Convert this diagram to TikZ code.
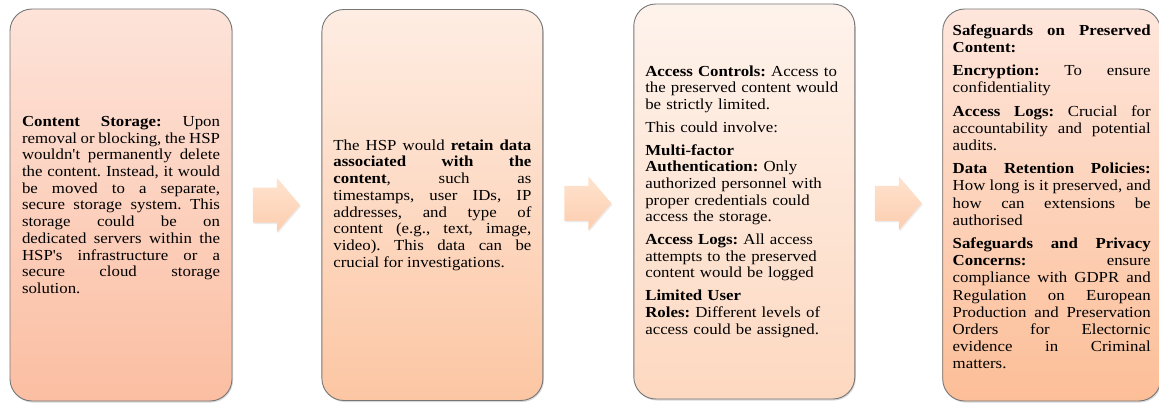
\documentclass[tikz,border=0pt]{standalone}
\usepackage{fontspec}
\setmainfont{Liberation Serif}[Ligatures=TeXOff, FakeStretch=1.1]
\usetikzlibrary{positioning}
\usetikzlibrary{calc}
\usetikzlibrary{shadows}
\definecolor{boxgrey}{HTML}{767676}
\definecolor{top1}{HTML}{FDE3D9}
\definecolor{bot1}{HTML}{FBBEA2}
\definecolor{top2}{HTML}{FEEDE3}
\definecolor{bot2}{HTML}{FCC6A3}
\definecolor{top3}{HTML}{FEF3EC}
\definecolor{bot3}{HTML}{FDD8C0}
\definecolor{top4}{HTML}{FEE6DC}
\definecolor{bot4}{HTML}{FCBE97}
\definecolor{arrowtop}{HTML}{FEE3CF}
\definecolor{arrowbot}{HTML}{FDCDAE}
\newcommand{\boxfont}{\fontsize{15.3}{16.7}\selectfont\parindent=0pt\frenchspacing}
\newcommand{\paragap}{\par\vspace{6pt}}
\tikzset{
	infobox/.style={draw=boxgrey, line width=0.9pt, rounded corners=22pt,
		inner sep=0pt, text width=198pt, align=justify, font=\boxfont,
		drop shadow={opacity=0.3, shadow xshift=1pt, shadow yshift=-1.5pt}},
	blockarrow/.style={top color=arrowtop, bottom color=arrowbot, draw=none,
		drop shadow={opacity=0.15, shadow xshift=1pt, shadow yshift=-1.5pt}}
}

\begin{document}
\begin{tikzpicture}[x=1pt, y=-1pt]
	\useasboundingbox (0,0) rectangle (1159,404);

	% Boxes 1 to 4
	\node [infobox, minimum width=222pt, minimum height=392pt, top color=top1, bottom color=bot1] at (121,205) (1storage) {\textbf{Content Storage:} Upon\linebreak removal or blocking, the HSP\linebreak wouldn't permanently delete\linebreak the content. Instead, it would\linebreak be moved to a separate,\linebreak secure storage system. This\linebreak storage could be on\linebreak dedicated servers within the\linebreak HSP's infrastructure or a\linebreak secure cloud storage\linebreak solution.};
	\node [infobox, minimum width=221pt, minimum height=391pt, top color=top2, bottom color=bot2, right=89pt of 1storage] (2data) {The HSP would \textbf{retain data}\linebreak \textbf{associated with the}\linebreak \textbf{content}, such as\linebreak timestamps, user IDs, IP\linebreak addresses, and type of\linebreak content (e.g., text, image,\linebreak video). This data can be\linebreak crucial for investigations.};
	\node [infobox, align=left, minimum width=221pt, minimum height=395pt, top color=top3, bottom color=bot3, right=90pt of 2data, yshift=3.5pt] (3access) {\textbf{Access Controls:} Access to\\ the preserved content would\\ be strictly limited.\paragap This could involve:\paragap \textbf{Multi-factor}\\ \textbf{Authentication:} Only\\ authorized personnel with\\ proper credentials could\\ access the storage.\paragap \textbf{Access Logs:} All access\\ attempts to the preserved\\ content would be logged\paragap \textbf{Limited User}\\ \textbf{Roles:} Different levels of\\ access could be assigned.};
	\node [infobox, minimum width=218pt, minimum height=392pt, top color=top4, bottom color=bot4, right=87pt of 3access, yshift=-3.5pt] (4safeguards) {\baselineskip=17.2pt \textbf{Safeguards on Preserved}\linebreak \textbf{Content:}\paragap \textbf{Encryption:} To ensure\linebreak confidentiality\paragap \textbf{Access Logs:} Crucial for\linebreak accountability and potential\linebreak audits.\paragap \textbf{Data Retention Policies:}\linebreak How long is it preserved, and\linebreak how can extensions be\linebreak authorised\paragap \textbf{Safeguards and Privacy}\linebreak \textbf{Concerns:} ensure\linebreak compliance with GDPR and\linebreak Regulation on European\linebreak Production and Preservation\linebreak Orders for Electornic\linebreak evidence in Criminal\linebreak matters.\par\rule{0pt}{12pt}};

	% Arrows between the boxes
	\coordinate (a1) at ($(1storage.east)!0.5!(2data.west)$);
	\coordinate (a2) at ($(2data.east)!0.5!(3access.west)$);
	\coordinate (a3) at ($(3access.east)!0.5!(4safeguards.west)$);
	\foreach \a in {a1,a2,a3}
		\path [blockarrow] (\a) ++(-24,-17.5) -- ++(24,0) -- ++(0,-9.5) -- ++(23,27) -- ++(-23,27) -- ++(0,-9.5) -- ++(-24,0) -- cycle;

\end{tikzpicture}
\end{document}
